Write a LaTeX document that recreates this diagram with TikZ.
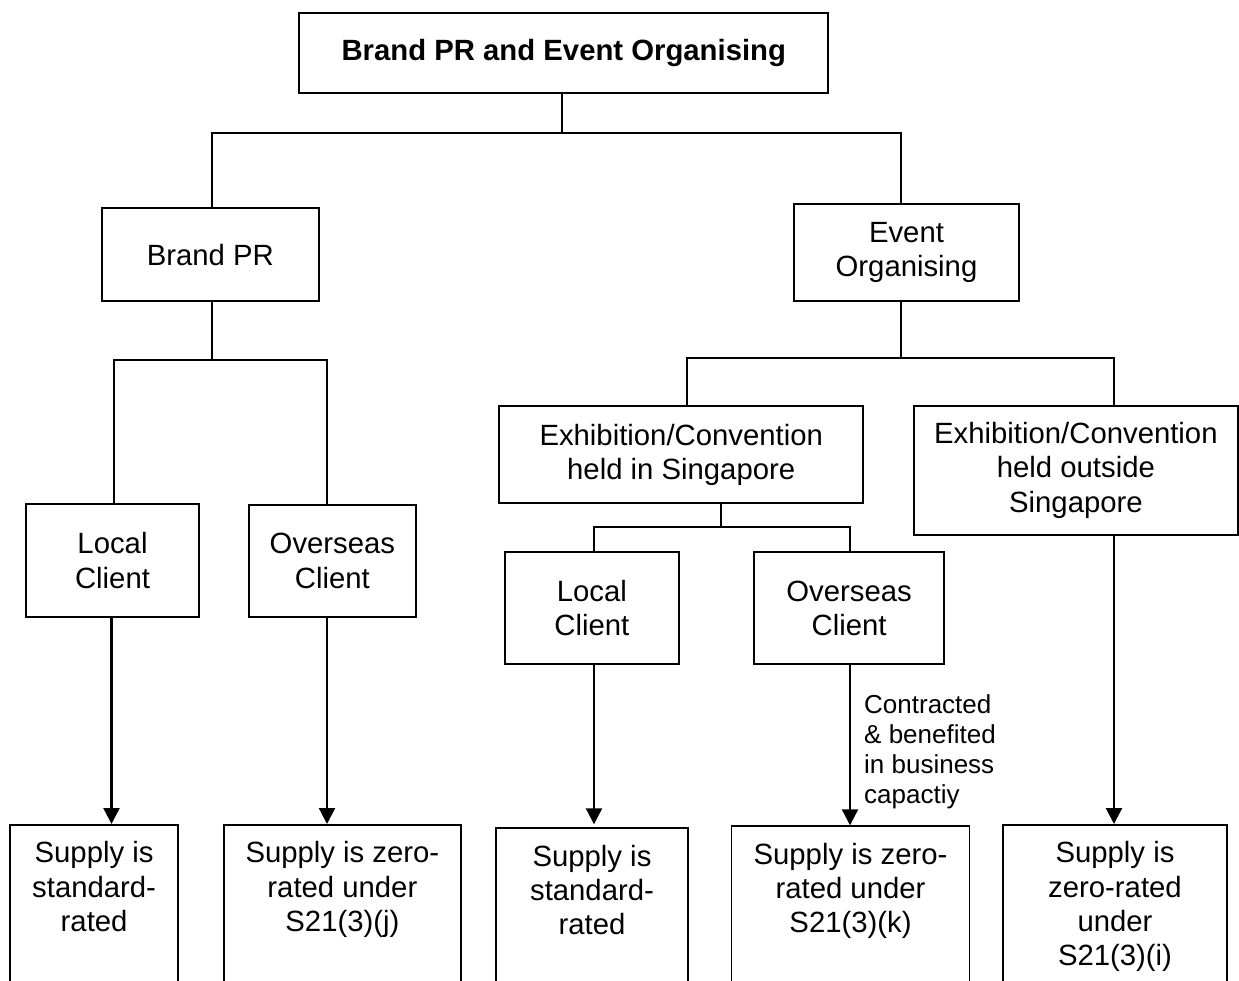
\documentclass[tikz,border=0pt]{standalone}
\usepackage{fontspec}
\setmainfont{Liberation Sans}
\usetikzlibrary{arrows.meta}
\newcommand\suptext[2]{\parbox[t][180pt][t]{#1}{\centering\rule{0pt}{38pt}#2}}
\begin{document}
\begin{tikzpicture}[x=1pt,y=-1pt,
  font={\fontsize{29.3}{34.3}\selectfont},
  box/.style={draw, line width=1.8pt, inner sep=0pt, align=center},
  supbox/.style={draw, line width=1.8pt, inner sep=0pt, anchor=north},
  conn/.style={line width=1.8pt},
  arr/.style={line width=2.2pt, -{Triangle[length=16pt,width=16pt]}},
  lbl/.style={font={\fontsize{26}{30}\selectfont}, align=left, inner sep=0pt, anchor=north west}
]
\useasboundingbox (0,0) rectangle (1239,980);
\clip (0,0) rectangle (1239,980);

% boxes
\node[box, minimum width=529pt, minimum height=80pt] (top) at (563.8,53.3) {\bfseries Brand PR and Event Organising};
\node[box, minimum width=216.7pt, minimum height=92.7pt] (brand) at (210.3,254.7) {Brand PR};
\node[box, minimum width=225pt, minimum height=96.4pt] (evt) at (906.5,252.5) {Event\\Organising};
\node[box, minimum width=173.6pt, minimum height=112.4pt] (lc1) at (112.5,560.5) {Local\\Client};
\node[box, minimum width=167.3pt, minimum height=112pt] (oc1) at (332.4,561) {Overseas\\Client};
\node[box, minimum width=364.3pt, minimum height=97.3pt] (exin) at (681.2,454.7) {Exhibition/Convention\\held in Singapore};
\node[box, minimum width=324.3pt, minimum height=128.7pt] (exout) at (1075.9,470.4) {Exhibition/Convention\\held outside\\Singapore};
\node[box, minimum width=173.7pt, minimum height=112pt] (lc2) at (591.8,608.3) {Local\\Client};
\node[box, minimum width=190.2pt, minimum height=112pt] (oc2) at (849.1,608.3) {Overseas\\Client};

\node[supbox] (s1) at (94.1,824) {\suptext{168.4pt}{Supply is\\standard-\\rated}};
\node[supbox] (s2) at (342.4,824) {\suptext{237.2pt}{Supply is zero-\\rated under\\S21(3)(j)}};
\node[supbox] (s3) at (592,827.3) {\suptext{192.6pt}{Supply is\\standard-\\rated}};
\node[supbox] (s4) at (850.5,825.3) {\suptext{238pt}{Supply is zero-\\rated under\\S21(3)(k)}};
\node[supbox] (s5) at (1115,824) {\suptext{224.5pt}{Supply is\\zero-rated\\under\\S21(3)(i)}};

\node[lbl] (lab) at (864,694) {Contracted\\\& benefited\\in business\\capactiy};

% junction coordinates
\coordinate (c0) at (562,133);
\coordinate (c1) at (212,133);
\coordinate (c2) at (901,133);
\coordinate (c3) at (212,360);
\coordinate (c4) at (114,360);
\coordinate (c5) at (327,360);
\coordinate (c6) at (901,358);
\coordinate (c7) at (687,358);
\coordinate (c8) at (1114,358);
\coordinate (c9) at (721,527);
\coordinate (c10) at (594,527);
\coordinate (c11) at (850,527);
\coordinate (a1) at (111.5,0);
\coordinate (a2) at (327,0);
\coordinate (a3) at (594,0);
\coordinate (a4) at (850,0);
\coordinate (a5) at (1114,0);

% tree connectors
\draw[conn] (top.south -| c0) -- (c0);
\draw[conn] (brand.north -| c1) -- (c1) -- (c2) -- (evt.north -| c2);
\draw[conn] (brand.south -| c3) -- (c3);
\draw[conn] (lc1.north -| c4) -- (c4) -- (c5) -- (oc1.north -| c5);
\draw[conn] (evt.south -| c6) -- (c6);
\draw[conn] (exin.north -| c7) -- (c7) -- (c8) -- (exout.north -| c8);
\draw[conn] (exin.south -| c9) -- (c9);
\draw[conn] (lc2.north -| c10) -- (c10) -- (c11) -- (oc2.north -| c11);

% arrows
\draw[arr] (lc1.south -| a1) -- (s1.north -| a1);
\draw[arr] (oc1.south -| a2) -- (s2.north -| a2);
\draw[arr, shorten >=3pt] (lc2.south -| a3) -- (s3.north -| a3);
\draw[arr] (oc2.south -| a4) -- (s4.north -| a4);
\draw[arr] (exout.south -| a5) -- (s5.north -| a5);
\end{tikzpicture}
\end{document}
